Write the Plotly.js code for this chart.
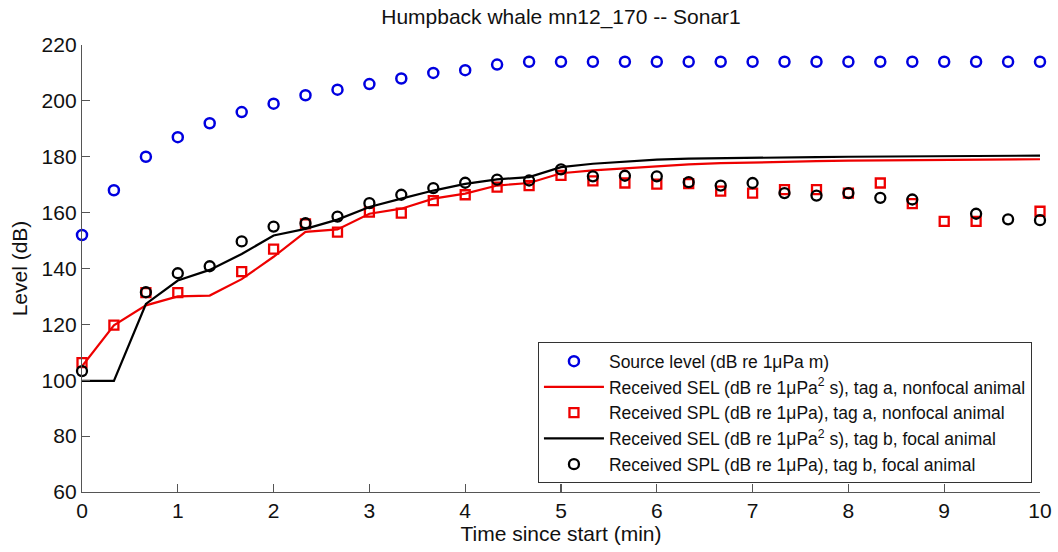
<!DOCTYPE html>
<html>
<head>
<meta charset="utf-8">
<script src="https://cdn.plot.ly/plotly-3.0.1.min.js"></script>
<style>html,body{margin:0;padding:0;background:#fff;}#chart{width:1058px;height:552px;}</style>
</head>
<body>
<div id="chart"></div>
<script>
// Time since start (min)
const timeMin = [0, 0.333, 0.667, 1, 1.333, 1.667, 2, 2.333, 2.667, 3, 3.333, 3.667, 4, 4.333, 4.667, 5, 5.333, 5.667, 6, 6.333, 6.667, 7, 7.333, 7.667, 8, 8.333, 8.667, 9, 9.333, 9.667, 10];
// Source level (dB re 1uPa m)
const sourceLevel = [152, 168, 180, 187, 192, 196, 199, 202, 204, 206, 208, 210, 211, 213, 214, 214, 214, 214, 214, 214, 214, 214, 214, 214, 214, 214, 214, 214, 214, 214, 214];
// Received SEL, tag a (nonfocal)
const selTagA = [105, 119.7, 126.8, 130, 130.3, 136.2, 144.2, 153.1, 154, 159.6, 161.4, 165, 166.8, 169.7, 170.6, 174.1, 175.1, 175.9, 176.7, 177.3, 177.7, 178, 178.2, 178.4, 178.6, 178.7, 178.8, 178.9, 179, 179, 179.1];
// Received SPL, tag a (nonfocal)
const splTagA = [106.3, 119.7, 131.4, 131.4, null, 138.9, 146.9, 156, 153, 160.2, 159.8, 164.3, 166.4, 169.1, 169.7, 173.3, 171.4, 170.6, 170.2, 170.4, 167.7, 167, 168.2, 168.2, 167, 170.6, 163.2, 156.9, 156.9, null, 160.5];
// Received SEL, tag b (focal)
const selTagB = [99.8, 99.8, 127.3, 135.7, 139.5, 145.2, 151.8, 154.2, 157.5, 162, 165, 167.9, 170.3, 171.9, 172.7, 176.3, 177.5, 178.3, 179, 179.3, 179.5, 179.7, 179.8, 179.9, 180, 180.1, 180.2, 180.2, 180.3, 180.3, 180.4];
// Received SPL, tag b (focal)
const splTagB = [103.3, null, 131.5, 138.3, 140.8, 149.7, 155, 156.2, 158.6, 163.4, 166.4, 168.8, 170.7, 171.8, 171.5, 175.5, 173, 173.2, 173, 170.9, 169.7, 170.6, 167, 166.1, 167, 165.3, 164.7, null, 159.6, 157.6, 157.3];

const FONT = 'Liberation Sans, Arial, sans-serif';

const traces = [
  {x: timeMin, y: sourceLevel, mode: 'markers', type: 'scatter', cliponaxis: false,
   name: 'Source level (dB re 1μPa m)',
   marker: {symbol: 'circle-open', size: 10, color: '#0000e0', line: {width: 2.5, color: '#0000e0'}}},
  {x: timeMin, y: selTagA, mode: 'lines', type: 'scatter', cliponaxis: false,
   name: 'Received SEL (dB re 1μPa<sup>2</sup> s), tag a, nonfocal animal',
   line: {color: '#ee0000', width: 2.2}},
  {x: timeMin, y: splTagA, mode: 'markers', type: 'scatter', cliponaxis: false,
   name: 'Received SPL (dB re 1μPa), tag a, nonfocal animal',
   marker: {symbol: 'square-open', size: 9, color: '#ee0000', line: {width: 2.3, color: '#ee0000'}}},
  {x: timeMin, y: selTagB, mode: 'lines', type: 'scatter', cliponaxis: false,
   name: 'Received SEL (dB re 1μPa<sup>2</sup> s), tag b, focal animal',
   line: {color: '#000000', width: 2.2}},
  {x: timeMin, y: splTagB, mode: 'markers', type: 'scatter', cliponaxis: false,
   name: 'Received SPL (dB re 1μPa), tag b, focal animal',
   marker: {symbol: 'circle-open', size: 10, color: '#000000', line: {width: 2.3, color: '#000000'}}}
];

const axisCommon = {
  showline: true, linecolor: '#555', linewidth: 1.2, mirror: false,
  ticks: 'inside', ticklen: 8, tickwidth: 1.2, tickcolor: '#555',
  showgrid: false, zeroline: false,
  tickfont: {family: FONT, size: 21, color: '#111'}
};

const layout = {
  width: 1058, height: 552,
  margin: {l: 82, r: 18, t: 45, b: 60},
  paper_bgcolor: '#fff', plot_bgcolor: '#fff',
  font: {family: FONT, color: '#111'},
  title: {text: 'Humpback whale mn12_170 -- Sonar1', x: 0.5, xref: 'paper', xanchor: 'center',
          y: 0.969, yref: 'container', yanchor: 'middle', font: {family: FONT, size: 21, color: '#111'}},
  xaxis: Object.assign({}, axisCommon, {range: [0, 10], dtick: 1, tick0: 0,
          title: {text: 'Time since start (min)', font: {family: FONT, size: 21, color: '#111'}, standoff: 0}}),
  yaxis: Object.assign({}, axisCommon, {range: [60, 220], dtick: 20, tick0: 60,
          title: {text: 'Level (dB)', font: {family: FONT, size: 21, color: '#111'}, standoff: 8}}),
  showlegend: true,
  legend: {x: 0.9916, y: 0.0195, xanchor: 'right', yanchor: 'bottom',
           bgcolor: '#fff', bordercolor: '#333', borderwidth: 1, itemwidth: 60,
           entrywidth: 440, entrywidthmode: 'pixels',
           font: {family: FONT, size: 17.5, color: '#111'}, tracegroupgap: 0}
};

Plotly.newPlot('chart', traces, layout, {displayModeBar: false, staticPlot: true});
</script>
</body>
</html>
